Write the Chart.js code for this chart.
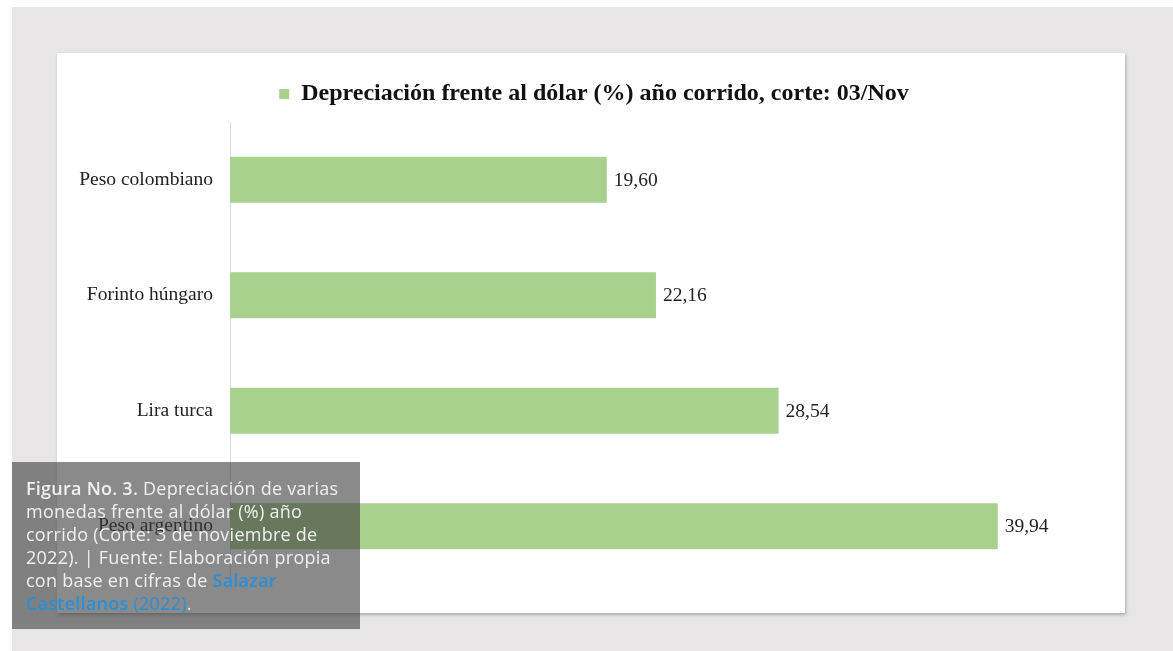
<!DOCTYPE html>
<html>
<head>
<meta charset="utf-8">
<script src="https://cdn.jsdelivr.net/npm/chart.js@4"></script>
<style>
  html, body { margin: 0; padding: 0; background: #ffffff; }
  #page { position: absolute; left: 12px; top: 7px; width: 1161px; height: 644px; background: #e7e5e6; }
  #panel { position: absolute; left: 57px; top: 53px; width: 1068px; height: 560px; background: #ffffff;
           box-shadow: 1px 2px 3px rgba(0,0,0,0.25); }
  #caption { position: absolute; left: 12px; top: 462px; width: 334px; height: 152px; padding: 15px 0 0 14px;
             background: rgba(60,60,60,0.6); color: #f0f0f0; font-family: "Open Sans", sans-serif;
             font-size: 18px; line-height: 23px; letter-spacing: 0.25px; white-space: nowrap; }
  #caption b { font-weight: 600; }
  #caption .link { color: #2690dc; }
</style>
</head>
<body>
<div id="page"></div>
<div id="panel"><canvas id="chart" width="1068" height="560"></canvas></div>
<div id="caption"><b>Figura No. 3.</b> Depreciación de varias<br>monedas frente al dólar (%) año<br>corrido (Corte: 3 de noviembre de<br>2022). | Fuente: Elaboración propia<br>con base en cifras de <span class="link"><b>Salazar</b><br><b>Castellanos</b> (2022)</span>.</div>
<script>
document.addEventListener("DOMContentLoaded", function() {

    const currencies = ["Peso colombiano", "Forinto húngaro", "Lira turca", "Peso argentino"];
    const depreciation = [19.60, 22.16, 28.54, 39.94];
    const seriesLabel = "Depreciación frente al dólar (%) año corrido, corte: 03/Nov";

    // value labels next to each bar
    const valueLabels = {
        id: "valueLabels",
        afterDatasetsDraw(chart) {
            const ctx = chart.ctx;
            const meta = chart.getDatasetMeta(0);
            ctx.save();
            ctx.font = "19.5px 'Liberation Serif', 'Times New Roman', serif";
            ctx.fillStyle = "#222222";
            ctx.textBaseline = "middle";
            meta.data.forEach((bar, i) => {
                const txt = depreciation[i].toFixed(2).replace(".", ",");
                ctx.fillText(txt, bar.x + 7, bar.y + 1);
            });
            ctx.restore();
        }
    };

    // a bit more room under the legend, and nudge it right
    const legendTweak = {
        id: "legendTweak",
        beforeInit(chart) {
            const fit = chart.legend.fit;
            chart.legend.fit = function() {
                fit.call(this);
                this.height += 6;
            };
        },
        afterLayout(chart) {
            chart.legend.left += 18;
            chart.legend.right += 18;
        }
    };

    const ctx = document.getElementById("chart").getContext("2d");
    const chart = new Chart(ctx, {
        type: "bar",
        data: {
            labels: currencies,
            datasets: [{
                label: seriesLabel,
                data: depreciation,
                backgroundColor: "#a8d18d",
                barPercentage: 0.8,
                categoryPercentage: 0.5
            }]
        },
        options: {
            indexAxis: "y",
            responsive: false,
            animation: false,
            layout: { padding: { top: 19, right: 30, bottom: 29, left: 0 } },
            scales: {
                x: {
                    display: false,
                    min: 0,
                    max: 45
                },
                y: {
                    grid: { display: false, drawTicks: false },
                    border: { display: true, color: "#d9d9d9", width: 1 },
                    ticks: {
                        padding: 17,
                        color: "#222222",
                        font: { family: "'Liberation Serif', 'Times New Roman', serif", size: 19.5 }
                    },
                    afterFit: function(scale) { scale.width = 173; }
                }
            },
            plugins: {
                legend: {
                    labels: {
                        boxWidth: 10,
                        boxHeight: 10,
                        padding: 10,
                        color: "#111111",
                        font: { family: "'Liberation Serif', 'Times New Roman', serif", size: 24, weight: "bold" }
                    }
                },
                tooltip: { enabled: false }
            }
        },
        plugins: [valueLabels, legendTweak]
    });
});
</script>
</body>
</html>
